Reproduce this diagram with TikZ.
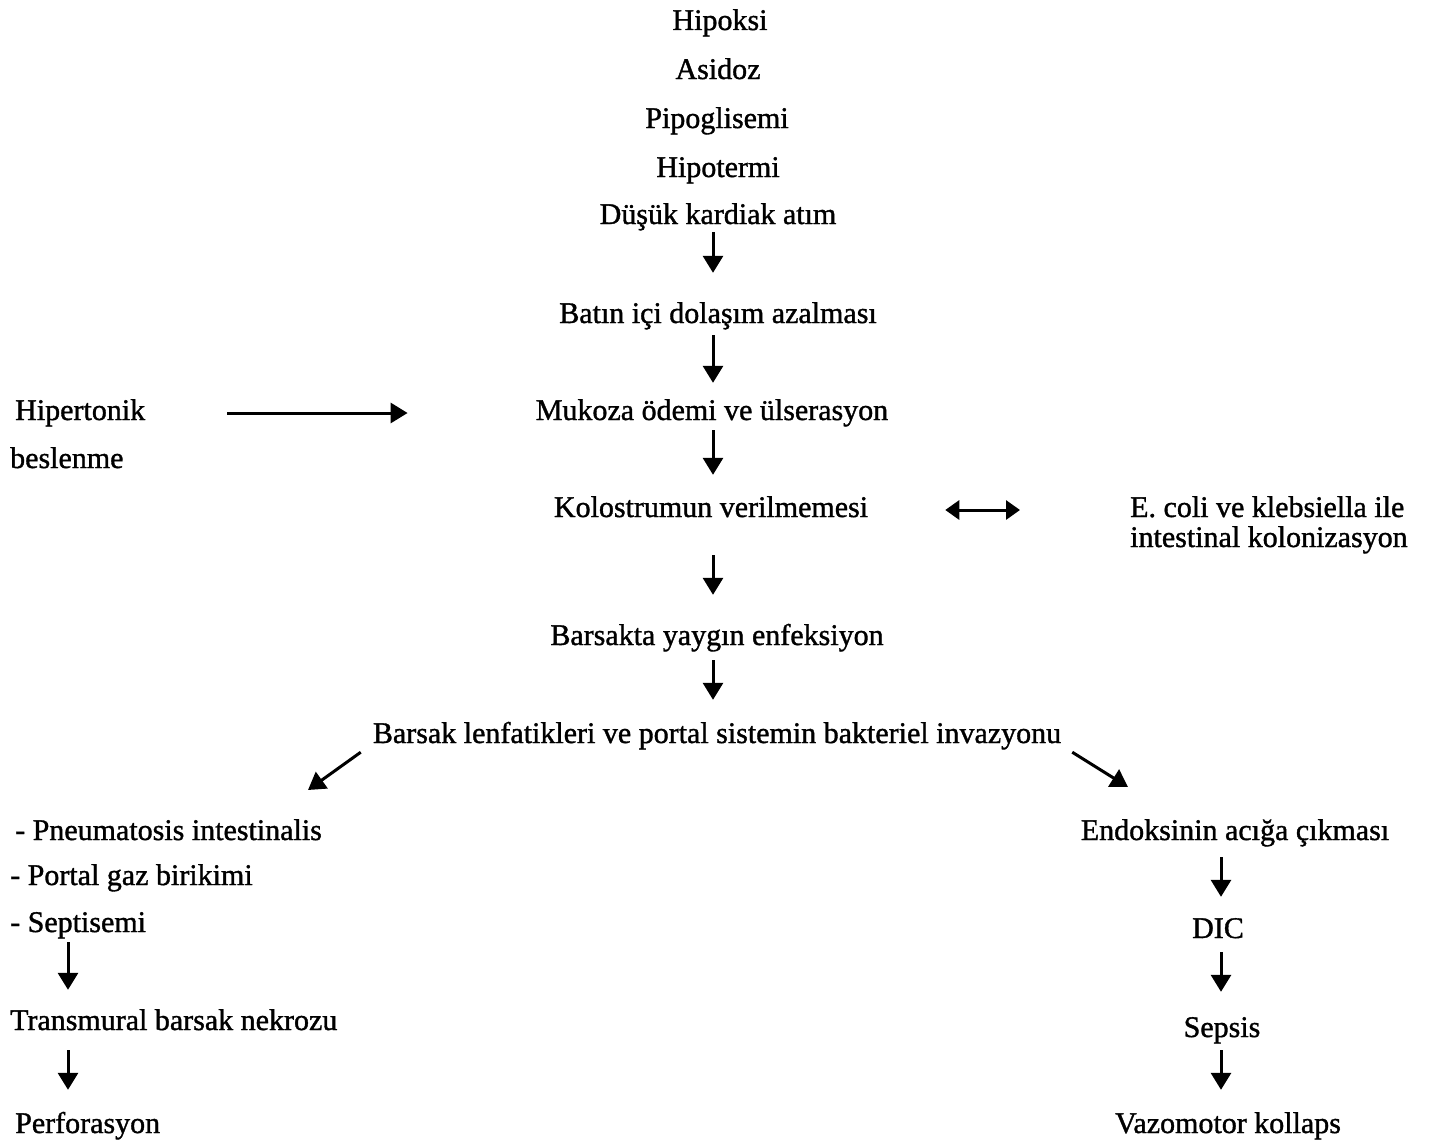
\documentclass[tikz,border=0pt]{standalone}
\usepackage{fontspec}
\setmainfont{Liberation Serif}[FakeBold=1.2]
\usetikzlibrary{arrows.meta,calc,positioning}

\begin{document}
\begin{tikzpicture}[x=1pt,y=-1pt,
  every node/.style={font=\fontsize{30}{30}\selectfont,inner sep=0pt,
                     text height=21pt,text depth=7pt},
  yazi/.style={anchor=base},
  sol/.style={anchor=base west},
  ok/.style={-{Triangle[length=17pt,width=20pt]},line width=3pt},
  ciftok/.style={{Triangle[length=14pt,width=19pt]}-{Triangle[length=14pt,width=19pt]},line width=3pt}]
\useasboundingbox (0,0) rectangle (1437,1140);
% orta sutun
\node[yazi] (hipoksi) at (720,30) {Hipoksi};
\node[yazi] (asidoz) at (718,79) {Asidoz};
\node[yazi] (pipo) at (717,128) {Pipoglisemi};
\node[yazi] (hipotermi) at (718,177) {Hipotermi};
\node[yazi] (dusuk) at (718,224) {Düşük kardiak atım};
\node[yazi] (batin) at (718,323) {Batın içi dolaşım azalması};
\node[yazi] (mukoza) at (712,420) {Mukoza ödemi ve ülserasyon};
\node[yazi] (kolos) at (711,517) {Kolostrumun verilmemesi};
\node[yazi] (barsakta) at (717,645) {Barsakta yaygın enfeksiyon};
\node[yazi] (lenf) at (717,743) {Barsak lenfatikleri ve portal sistemin bakteriel invazyonu};
% yan girdiler
\node[sol] (hiper) at (15,420) {Hipertonik};
\node[sol] (besle) at (10,468) {beslenme};
\node[sol] (ecoli) at (1130,517) {E. coli ve klebsiella ile};
\node[sol] (kolon) at (1130,547) {intestinal kolonizasyon};
% sol kol
\node[sol] (pneu) at (15,840) {- Pneumatosis intestinalis};
\node[sol] (portal) at (10,885) {- Portal gaz birikimi};
\node[sol] (sept) at (10,932) {- Septisemi};
\node[sol] (trans) at (10,1030) {Transmural barsak nekrozu};
\node[sol] (perf) at (15,1133) {Perforasyon};
% sag kol
\node[yazi] (endo) at (1235,840) {Endoksinin acığa çıkması};
\node[yazi] (dic) at (1218,938) {DIC};
\node[yazi] (sepsis) at (1222,1037) {Sepsis};
\node[yazi] (vazo) at (1228,1133) {Vazomotor kollaps};
\coordinate (orta) at (713,0);
\coordinate (solok) at (68,0);
\coordinate (sagok) at (1221,0);
\coordinate (solUc) at (308,790);
\coordinate (sagUc) at (1128,787);
\foreach \a/\b/\k/\u/\v in {dusuk/batin/orta/1/29, batin/mukoza/orta/5/16,
    mukoza/kolos/orta/3/21, kolos/barsakta/orta/31/29, barsakta/lenf/orta/8/22,
    sept/trans/solok/3/19, trans/perf/solok/13/22,
    endo/dic/sagok/10/20, dic/sepsis/sagok/7/24, sepsis/vazo/sagok/6/22}
  \draw[ok,shorten <=\u pt,shorten >=\v pt] (\a.south -| \k) -- (\b.north -| \k);
\draw[ok,shorten <=82pt,shorten >=128pt] (hiper.east) -- (hiper.east -| mukoza.west);
\draw[ciftok,shorten <=77pt,shorten >=110pt] (kolos.east) -- (kolos.east -| ecoli.west);
\draw[ok] ([xshift=-12pt,yshift=-2pt]lenf.south west) -- (solUc);
\draw[ok] ([xshift=11pt,yshift=-2pt]lenf.south east) -- (sagUc);
\end{tikzpicture}
\end{document}
